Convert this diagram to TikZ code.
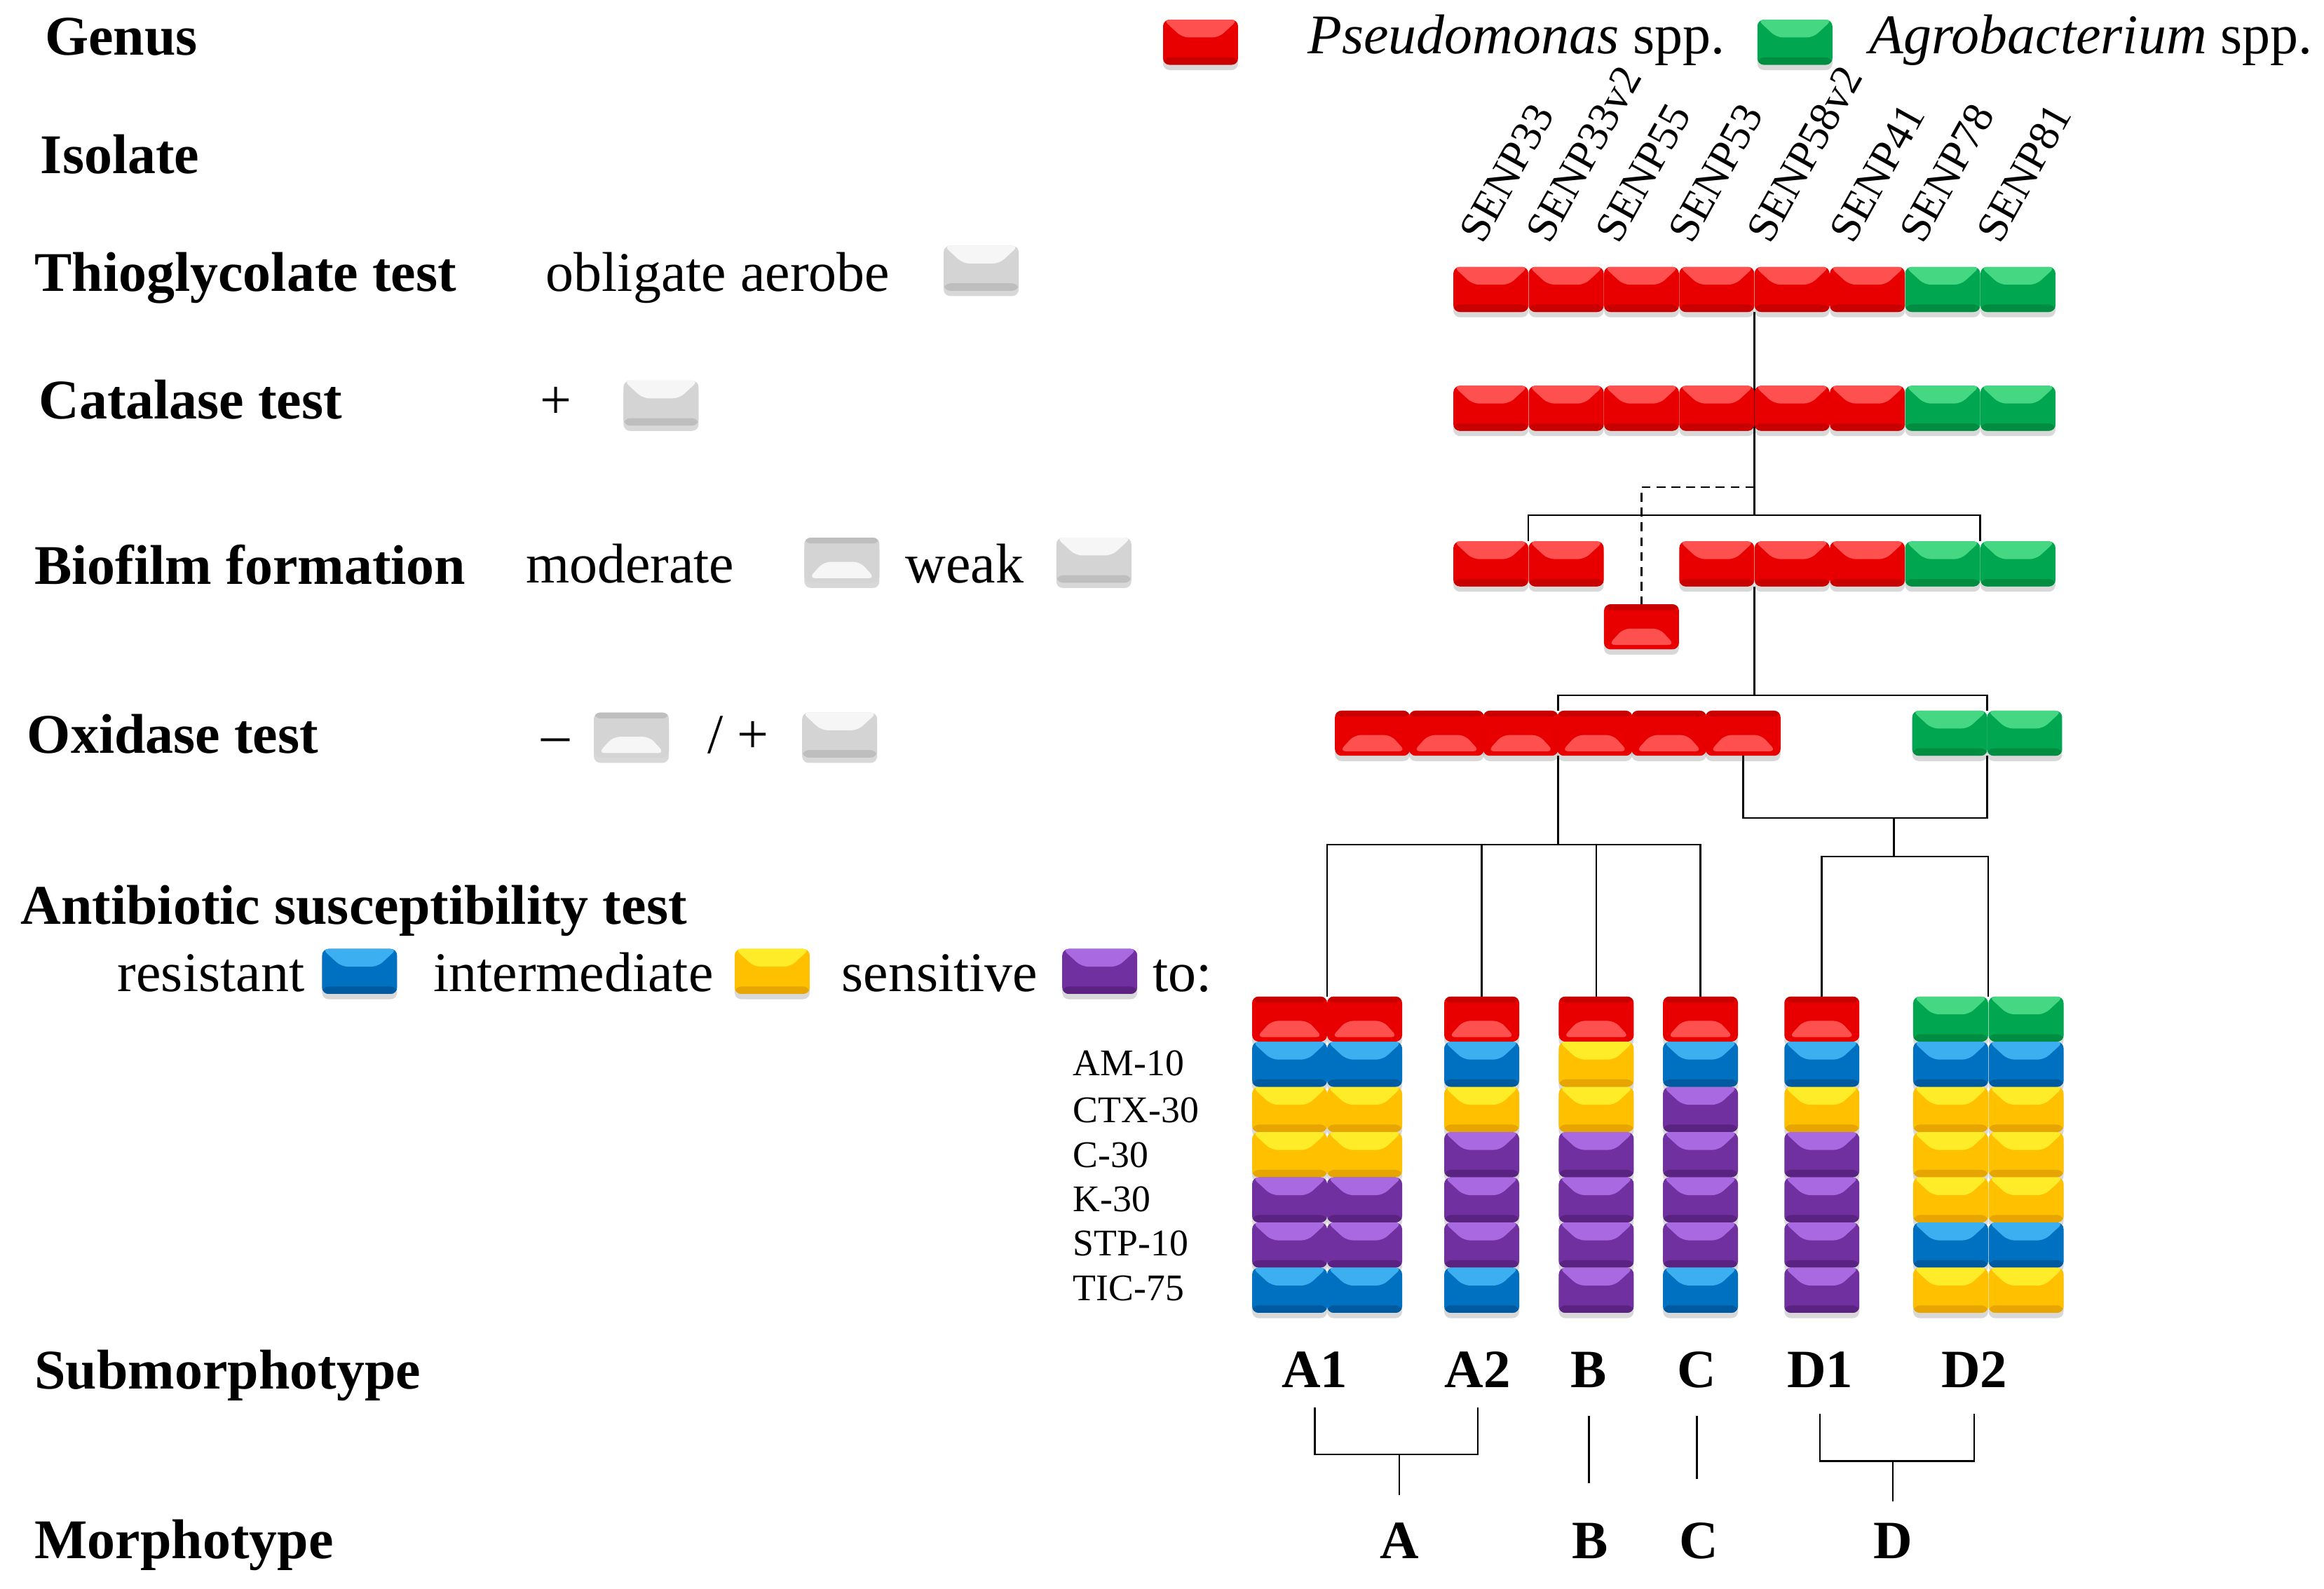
\documentclass[tikz,border=0pt]{standalone}
\usepackage{fontspec}
\setmainfont{Liberation Serif}
\usetikzlibrary{shadows}
\pgfdeclarelayer{bg}
\pgfsetlayers{bg,main}
\definecolor{cR}{RGB}{232,0,0}\definecolor{cRl}{RGB}{255,80,80}\definecolor{cRd}{RGB}{200,0,0}
\definecolor{cG}{RGB}{0,166,80}\definecolor{cGl}{RGB}{70,215,130}\definecolor{cGd}{RGB}{0,140,65}
\definecolor{cB}{RGB}{0,112,192}\definecolor{cBl}{RGB}{60,175,240}\definecolor{cBd}{RGB}{0,90,160}
\definecolor{cY}{RGB}{255,192,0}\definecolor{cYl}{RGB}{255,236,40}\definecolor{cYd}{RGB}{230,165,0}
\definecolor{cP}{RGB}{112,48,160}\definecolor{cPl}{RGB}{168,105,225}\definecolor{cPd}{RGB}{90,35,130}
\definecolor{cW}{RGB}{212,212,212}\definecolor{cWl}{RGB}{246,246,246}\definecolor{cWd}{RGB}{190,190,190}
\tikzset{
  cellbase/.style={rectangle, rounded corners=2.2pt, minimum width=25.3pt, minimum height=15.2pt,
    inner sep=0pt, outer sep=0pt,
    drop shadow={shadow xshift=0pt, shadow yshift=-1.8pt, opacity=0.25, fill=black!60}},
  cellu/.style={cellbase, fill=c#1, path picture={
    \fill[c#1d] (path picture bounding box.south west) rectangle ([yshift=2.5pt]path picture bounding box.south east);
    \fill[c#1l] (path picture bounding box.north west) -- (path picture bounding box.north east)
      -- ([xshift=-6.5pt,yshift=-6pt]path picture bounding box.north east)
      -- ([xshift=6.5pt,yshift=-6pt]path picture bounding box.north west) -- cycle;}},
  celld/.style={cellbase, fill=c#1, path picture={
    \fill[c#1d] (path picture bounding box.north west) rectangle ([yshift=-2pt]path picture bounding box.north east);
    \fill[c#1l] ([xshift=1.5pt,yshift=1.5pt]path picture bounding box.south west)
      -- ([xshift=-1.5pt,yshift=1.5pt]path picture bounding box.south east)
      -- ([xshift=-6.5pt,yshift=7pt]path picture bounding box.south east)
      -- ([xshift=6.5pt,yshift=7pt]path picture bounding box.south west) -- cycle;}},
  lab/.style={font=\fontsize{18.9}{22}\selectfont\bfseries, anchor=base west, inner sep=0pt},
  txt/.style={font=\fontsize{18.9}{22}\selectfont, anchor=base west, inner sep=0pt},
  iso/.style={font=\fontsize{14.6}{17}\selectfont, anchor=south west, rotate=61, inner sep=0pt},
  abl/.style={font=\fontsize{12.7}{15}\selectfont, anchor=base west, inner sep=0pt},
  sub/.style={font=\fontsize{18.2}{21}\selectfont\bfseries, anchor=base, inner sep=0pt},
  link/.style={line width=0.6pt, draw=black},
}
\newcommand\abstack[4]{%
  \node[#3] (#1-0) at (#2,687.7) {};
  \foreach \cc [count=\k] in {#4} {\node[cellu=\cc] (#1-\k) at (#2,{687.7+30.5*\k}) {};}
}
\begin{document}
\begin{tikzpicture}[x=0.5pt,y=-0.5pt]
\begin{pgfonlayer}{bg}
\fill[white] (0,0) rectangle (1568,1072);
\end{pgfonlayer}
\useasboundingbox (0,0) rectangle (1568,1072);

% left labels
\node[lab] (lgenus) at (30,37) {Genus};
\node[lab] (liso) at (27,117) {Isolate};
\node[lab] (lthio) at (23,196.5) {Thioglycolate test};
\node[lab] (lcat) at (25.8,282.5) {Catalase test};
\node[lab] (lbio) at (23,394) {Biofilm formation};
\node[lab] (loxi) at (18,508) {Oxidase test};
\node[lab] (lant) at (13.6,623.5) {Antibiotic susceptibility test};
\node[lab] (lsub) at (23,937) {Submorphotype};
\node[lab] (lmor) at (23,1051.5) {Morphotype};

% legend texts
\node[txt] (tpse) at (882,36) {\textit{Pseudomonas} spp.};
\node[txt] (tagr) at (1261,36) {\textit{Agrobacterium} spp.};
\node[txt] (tobl) at (368,196.5) {obligate aerobe};
\node[txt] (tplus) at (364,282.5) {+};
\node[txt] (tmod) at (354.4,393.5) {moderate};
\node[txt] (tweak) at (610.6,393.5) {weak};
\node[txt] (tminus) at (364.8,508) {–};
\node[txt] (tslash) at (477,508) {/ +};
\node[txt] (tres) at (79,669) {resistant};
\node[txt] (tint) at (292,669) {intermediate};
\node[txt] (tsen) at (567.5,669) {sensitive};
\node[txt] (tto) at (777.5,669) {to:};

% legend blocks
\node[cellu=R] (gpse) at (810,28.5) {};
\node[cellu=G] (gagr) at (1211,28.5) {};
\node[cellu=W] (gobl) at (662,181) {};
\node[cellu=W] (gcat) at (446,272) {};
\node[celld=W] (gmod) at (568,378) {};
\node[cellu=W] (gweak) at (738,378) {};
\node[celld=W] (gneg) at (426,496) {};
\node[cellu=W] (gpos) at (566.5,496) {};
\node[cellu=B] (gres) at (242.6,655.5) {};
\node[cellu=Y] (gint) at (521,655.5) {};
\node[cellu=P] (gsen) at (742,655.5) {};

% isolate names
\foreach \lbl/\xx [count=\i] in {SENP33/1001,SENP33v2/1046,SENP55/1093,SENP53/1142,SENP58v2/1195,SENP41/1251,SENP78/1298,SENP81/1350}
  {\node[iso] (iso\i) at (\xx,166) {\lbl};}

% rows
\foreach \k/\cc in {1/R,2/R,3/R,4/R,5/R,6/R,7/G,8/G}
  {\node[cellu=\cc] (t\k) at ({955.1+50.8*\k},195.3) {};}
\foreach \k/\cc in {1/R,2/R,3/R,4/R,5/R,6/R,7/G,8/G}
  {\node[cellu=\cc] (c\k) at ({955.1+50.8*\k},275.5) {};}
\foreach \k/\cc in {1/R,2/R,4/R,5/R,6/R,7/G,8/G}
  {\node[cellu=\cc] (b\k) at ({955.1+50.8*\k},380.5) {};}
\node[celld=R] (b3) at (1107.5,423) {};
\foreach \k in {1,...,6}
  {\node[celld=R] (o\k) at ({876+50*\k},494.8) {};}
\node[cellu=G] (o7) at (1315.5,494.8) {};
\node[cellu=G] (o8) at (1366,494.8) {};

% antibiotic stacks
\abstack{s1}{870.1}{celld=R}{B,Y,Y,P,P,B}
\abstack{s2}{920.7}{celld=R}{B,Y,Y,P,P,B}
\abstack{s3}{999.7}{celld=R}{B,Y,P,P,P,B}
\abstack{s4}{1077}{celld=R}{Y,Y,P,P,P,P}
\abstack{s5}{1147.3}{celld=R}{B,P,P,P,P,B}
\abstack{s6}{1229.2}{celld=R}{B,Y,P,P,P,P}
\abstack{s7}{1316.1}{cellu=G}{B,Y,Y,Y,B,Y}
\abstack{s8}{1367}{cellu=G}{B,Y,Y,Y,B,Y}

\foreach \lbl/\yy [count=\i] in {AM-10/726,CTX-30/757.6,C-30/787.6,K-30/817.5,STP-10/847.5,TIC-75/877.5}
  {\node[abl] (ab\i) at (723.7,\yy) {\lbl};}

% submorphotypes and morphotypes
\node[sub] (nA1) at (887,936.5) {A1};
\node[sub] (nA2) at (997,936.5) {A2};
\node[sub] (nB) at (1072,936.5) {B};
\node[sub] (nC) at (1145,936.5) {C};
\node[sub] (nD1) at (1228,936.5) {D1};
\node[sub] (nD2) at (1332,936.5) {D2};
\node[sub] (mA) at (944,1051.5) {A};
\node[sub] (mB) at (1073,1051.5) {B};
\node[sub] (mC) at (1146,1051.5) {C};
\node[sub] (mD) at (1277,1051.5) {D};

% junction coordinates
\coordinate (j1) at (1183.6,347.7);
\coordinate (jd) at (1183.6,328.7);
\coordinate (k2) at (1183.6,469.3);
\coordinate (k3) at (1051.3,570);
\coordinate (k4) at (1277.8,552);
\coordinate (k5) at (1277.8,578);
\coordinate (qa) at (944,981.5);
\coordinate (qd) at (1277,986);

\begin{pgfonlayer}{bg}
\draw[link] (t4.south east) -- (j1);
\draw[link] (b1.north east) -- (b1.north east |- j1) -- (b7.north east |- j1) -- (b7.north east);
\draw[link, dash pattern=on 3pt off 2pt] (jd) -| (b3.north);
\draw[link] (b4.south east) -- (k2);
\draw[link] (o3.north east) -- (o3.north east |- k2) -- (o7.north east |- k2) -- (o7.north east);
\draw[link] (o3.south east) -- (k3);
\draw[link] (s1-0.north east) -- (s1-0.north east |- k3) -- (s5-0.north |- k3) -- (s5-0.north);
\draw[link] (s3-0.north) -- (s3-0.north |- k3);
\draw[link] (s4-0.north) -- (s4-0.north |- k3);
\draw[link] (o6.south) -- (o6.south |- k4) -- (o7.south east |- k4) -- (o7.south east);
\draw[link] (k4) -- (k5);
\draw[link] (s6-0.north) -- (s6-0.north |- k5) -- (s7-0.north east |- k5) -- (s7-0.north east);
% bottom brackets
\draw[link] (nA1.south |- 0,950) -- (nA1.south |- qa) -- (nA2.south |- qa) -- (nA2.south |- 0,950);
\draw[link] (qa) -- (mA.north |- 0,1009);
\draw[link] (nB.south |- 0,955.5) -- (nB.south |- 0,1001);
\draw[link] (nC.south |- 0,955.5) -- (nC.south |- 0,998);
\draw[link] (nD1.south |- 0,954) -- (nD1.south |- qd) -- (nD2.south |- qd) -- (nD2.south |- 0,954);
\draw[link] (qd) -- (mD.north |- 0,1013);
\end{pgfonlayer}
\end{tikzpicture}
\end{document}
